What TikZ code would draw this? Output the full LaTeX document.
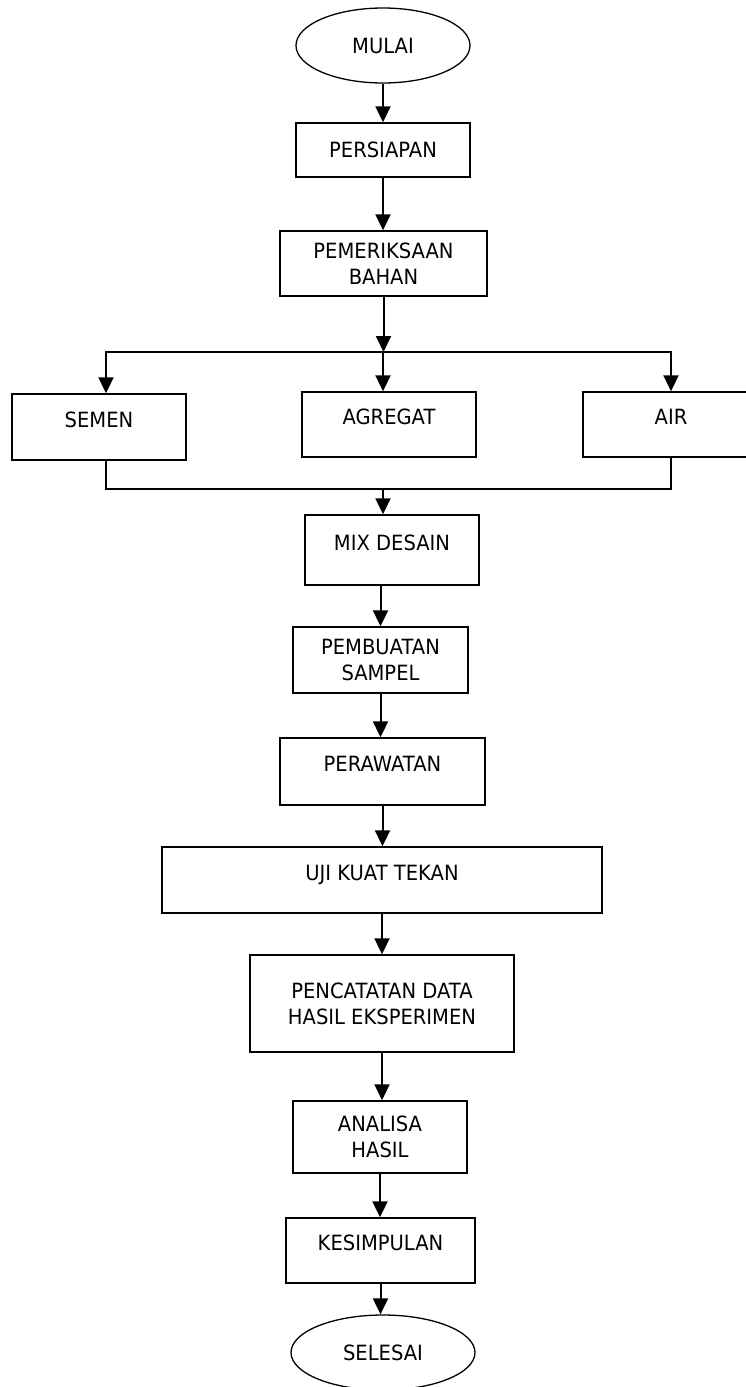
\documentclass[tikz,border=0pt]{standalone}
\usepackage{fontspec}
\setmainfont{DejaVu Sans}[FakeStretch=0.93]
\usetikzlibrary{shapes.geometric,arrows.meta}

\tikzset{
    kotak/.style={draw,line width=1.4pt,inner sep=0pt,align=center},
    naik/.style={text depth=15pt},
    oval/.style={draw,ellipse,line width=1.3pt,inner sep=0pt},
    panah/.style={line width=2pt,-{Triangle[length=16pt,width=15pt]}},
    garis/.style={line width=1.6pt}
}

\begin{document}
\begin{tikzpicture}[x=1pt,y=1pt,font=\fontsize{21}{26}\selectfont]

    \useasboundingbox (0,0) rectangle (745,-1387);

    % Start
    \node[oval,minimum width=174,minimum height=75] (mulai) at (383,-45.5) {MULAI};

    % Preparation
    \node[kotak,minimum width=174,minimum height=54] (persiapan) at (383,-150) {PERSIAPAN};
    \node[kotak,minimum width=207,minimum height=65] (periksa) at (383.5,-263.5) {PEMERIKSAAN\\BAHAN};

    % Materials
    \node[kotak,naik,minimum width=174,minimum height=66] (semen) at (99,-427) {SEMEN};
    \node[kotak,naik,minimum width=174,minimum height=65] (agregat) at (389,-424.5) {AGREGAT};
    \node[kotak,naik,minimum width=176,minimum height=65] (air) at (671,-424.5) {AIR};
    \coordinate (pisah) at (383,-352);
    \coordinate (gabung) at (383,-489);

    % Process
    \node[kotak,naik,minimum width=174,minimum height=70] (mix) at (392,-550) {MIX DESAIN};
    \node[kotak,minimum width=175,minimum height=66] (sampel) at (380.5,-660) {PEMBUATAN\\SAMPEL};
    \node[kotak,naik,minimum width=205,minimum height=67] (rawat) at (382.5,-771.5) {PERAWATAN};
    \node[kotak,naik,minimum width=440,minimum height=66] (uji) at (382,-880) {UJI KUAT TEKAN};
    \node[kotak,minimum width=264,minimum height=97] (catat) at (382,-1003.5) {PENCATATAN DATA\\HASIL EKSPERIMEN};
    \node[kotak,minimum width=174,minimum height=72] (analisa) at (380,-1137) {ANALISA\\HASIL};
    \node[kotak,naik,minimum width=189,minimum height=65] (simpul) at (380.5,-1250.5) {KESIMPULAN};

    % End
    \node[oval,minimum width=184,minimum height=75] (selesai) at (383,-1352.5) {SELESAI};

    % Arrows
    \draw[panah] (mulai.south) -- (persiapan.north);
    \draw[panah] (persiapan.south) -- (persiapan.south |- periksa.north);
    \draw[panah] (periksa.south) -- (periksa.south |- pisah);
    \draw[panah] (pisah) -| ([xshift=7pt]semen.north);
    \draw[panah] (pisah) -- (pisah |- agregat.north);
    \draw[panah] (pisah) -| (air.north);
    \draw[garis] ([xshift=7pt]semen.south) |- (gabung) -| (air.south);
    \draw[panah] (gabung) -- (gabung |- mix.north);
    \draw[panah] (sampel.north |- mix.south) -- (sampel.north);
    \draw[panah] (sampel.south) -- (sampel.south |- rawat.north);
    \draw[panah] (rawat.south) -- (rawat.south |- uji.north);
    \draw[panah] (uji.south) -- (uji.south |- catat.north);
    \draw[panah] (catat.south) -- (catat.south |- analisa.north);
    \draw[panah] (analisa.south) -- (analisa.south |- simpul.north);
    \draw[panah] (simpul.south) -- (simpul.south |- selesai.north);

\end{tikzpicture}
\end{document}
